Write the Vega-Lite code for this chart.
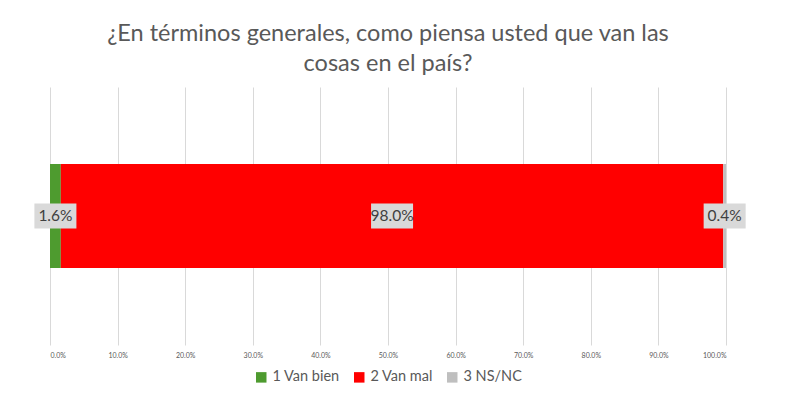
{
  "$schema": "https://vega.github.io/schema/vega-lite/v6.json",
  "autosize": "none",
  "width": 676,
  "height": 258,
  "padding": {"left": 50, "top": 87, "right": 74, "bottom": 69},
  "background": "white",
  "title": {
    "text": ["¿En términos generales, como piensa usted que van las", "cosas en el país?"],
    "font": "Lato",
    "fontSize": 23.5,
    "fontWeight": "normal",
    "color": "#595959",
    "lineHeight": 30,
    "anchor": "middle",
    "offset": 12
  },
  "data": {
    "values": [
      {"q": "pais", "cat": "1 Van bien", "value": 0.016, "label": "1.6%"},
      {"q": "pais", "cat": "2 Van mal", "value": 0.98, "label": "98.0%"},
      {"q": "pais", "cat": "3 NS/NC", "value": 0.004, "label": "0.4%"}
    ]
  },
  "transform": [
    {"stack": "value", "groupby": ["q"], "sort": [{"field": "cat"}], "as": ["v0", "v1"]},
    {"calculate": "(datum.v0 + datum.v1) / 2", "as": "mid"}
  ],
  "encoding": {
    "y": {
      "field": "q",
      "type": "nominal",
      "axis": null,
      "scale": {"paddingInner": 0, "paddingOuter": 0.74}
    }
  },
  "layer": [
    {
      "mark": {"type": "bar"},
      "encoding": {
        "x": {
          "field": "v0",
          "type": "quantitative",
          "scale": {"domain": [0, 1], "nice": false},
          "axis": {
            "format": ".1%",
            "values": [0, 0.1, 0.2, 0.3, 0.4, 0.5, 0.6, 0.7, 0.8, 0.9, 1],
            "labelFontSize": 7,
            "labelColor": "#595959",
            "labelFont": "Lato",
            "labelPadding": 6,
            "grid": true,
            "gridColor": "#d9d9d9",
            "domain": false,
            "ticks": false,
            "title": null
          }
        },
        "x2": {"field": "v1"},
        "color": {
          "field": "cat",
          "type": "nominal",
          "scale": {
            "domain": ["1 Van bien", "2 Van mal", "3 NS/NC"],
            "range": ["#4e9b2f", "#ff0000", "#bfbfbf"]
          },
          "legend": {
            "orient": "bottom",
            "direction": "horizontal",
            "title": null,
            "symbolType": "square",
            "symbolSize": 110,
            "symbolStrokeWidth": 0,
            "labelFontSize": 14.5,
            "labelFont": "Lato",
            "labelColor": "#595959",
            "columnPadding": 12,
            "labelOffset": 4,
            "offset": 12
          }
        }
      }
    },
    {
      "mark": {
        "type": "point",
        "shape": "M-1,-0.6H1V0.6H-1Z",
        "size": 1764,
        "filled": true,
        "fill": "#d9d9d9",
        "opacity": 1,
        "clip": false
      },
      "encoding": {
        "x": {"field": "mid", "type": "quantitative"}
      }
    },
    {
      "mark": {
        "type": "text",
        "font": "Lato",
        "fontSize": 15.5,
        "color": "#404040",
        "clip": false
      },
      "encoding": {
        "x": {"field": "mid", "type": "quantitative"},
        "text": {"field": "label", "type": "nominal"}
      }
    }
  ],
  "config": {
    "view": {"stroke": null},
    "legend": {"layout": {"bottom": {"anchor": "middle"}}}
  }
}
